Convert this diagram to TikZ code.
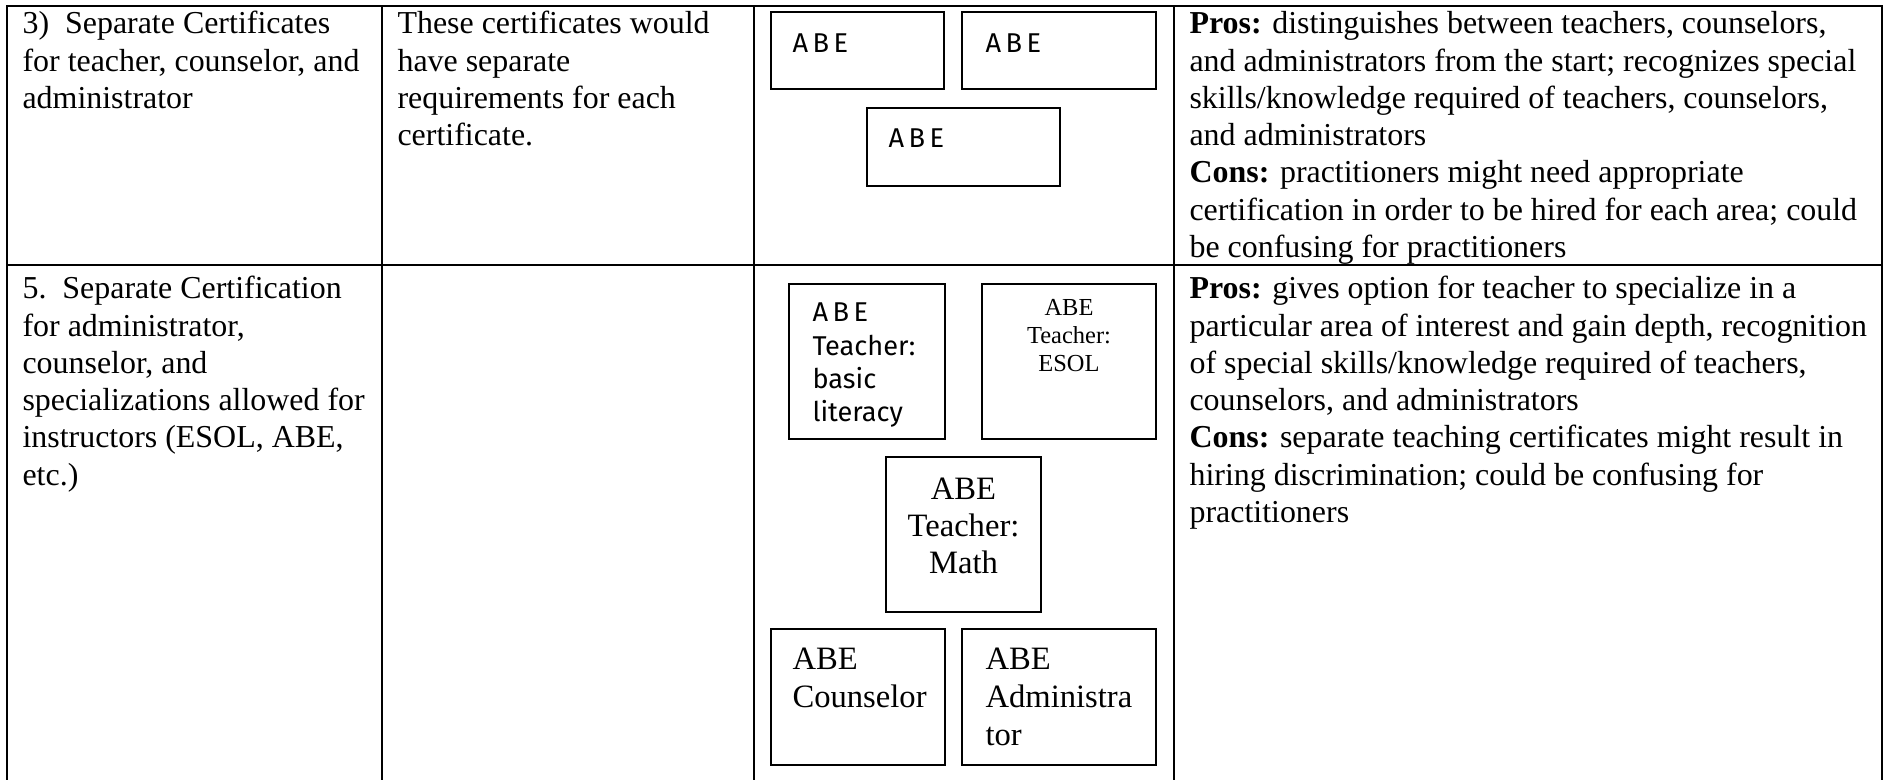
\documentclass[tikz,border=0pt]{standalone}
\usepackage{fontspec}
\setmainfont{Liberation Serif}
\newfontfamily\comicfont{Fira Sans}
\newcommand\celltextl[1]{\begin{tabular}[t]{@{}l@{}}#1\end{tabular}}
\newcommand\celltextc[1]{\begin{tabular}[t]{@{}c@{}}#1\end{tabular}}
\begin{document}
\begin{tikzpicture}[x=0.368pt,y=-0.368pt,
  grid/.style={line width=0.6pt,black},
  cell/.style={anchor=base west,inner sep=0pt,font=\fontsize{11.75}{13.7}\selectfont},
  box/.style={draw,line width=0.75pt,inner sep=0pt},
  comic/.style={anchor=base west,inner sep=0pt,font=\comicfont\fontsize{10}{12.25}\selectfont},
  smallc/.style={anchor=base,inner sep=0pt,font=\fontsize{9}{10.3}\selectfont},
  bigc/.style={anchor=base,inner sep=0pt,font=\fontsize{12}{13.6}\selectfont},
  bigl/.style={anchor=base west,inner sep=0pt,font=\fontsize{12}{13.9}\selectfont}]
\useasboundingbox (0,0) rectangle (1885,780);
% table grid
\draw[grid] (7,780) -- (7,6) -- (1882,6) -- (1882,780);
\draw[grid] (7,265) -- (1882,265);
\draw[grid] (382,6) -- (382,780);
\draw[grid] (754,6) -- (754,780);
\draw[grid] (1174,6) -- (1174,780);
% row 1 texts
\node[cell] (r1c1) at (22,34) {\celltextl{3)\ \ Separate Certificates\\for teacher, counselor, and\\administrator}};
\node[cell] (r1c2) at (397,34) {\celltextl{These certificates would\\have separate\\requirements for each\\certificate.}};
\node[cell] (r1c4) at (1189,34) {\celltextl{\textbf{Pros:} distinguishes between teachers, counselors,\\and administrators from the start; recognizes special\\skills/knowledge required of teachers, counselors,\\and administrators\\\textbf{Cons:} practitioners might need appropriate\\certification in order to be hired for each area; could\\be confusing for practitioners}};
% row 1 boxes
\node[box,minimum width=173*0.368pt,minimum height=77*0.368pt] (ba) at (857.5,50.5) {};
\node[box,minimum width=194*0.368pt,minimum height=77*0.368pt] (bb) at (1059,50.5) {};
\node[box,minimum width=193*0.368pt,minimum height=78*0.368pt] (bc) at (963.5,147) {};
\node[comic] (ta) at (792,53) {A\,B\,E};
\node[comic] (tb) at (985,53) {A\,B\,E};
\node[comic] (tc) at (888,148) {A\,B\,E};
% row 2 texts
\node[cell] (r2c1) at (22,299) {\celltextl{5.\ \ Separate Certification\\for administrator,\\counselor, and\\specializations allowed for\\instructors (ESOL, ABE,\\etc.)}};
\node[cell] (r2c4) at (1189,299) {\celltextl{\textbf{Pros:} gives option for teacher to specialize in a\\particular area of interest and gain depth, recognition\\of special skills/knowledge required of teachers,\\counselors, and administrators\\\textbf{Cons:} separate teaching certificates might result in\\hiring discrimination; could be confusing for\\practitioners}};
% row 2 boxes
\node[box,minimum width=156*0.368pt,minimum height=155*0.368pt] (bd) at (867,361.5) {};
\node[box,minimum width=174*0.368pt,minimum height=155*0.368pt] (be) at (1069,361.5) {};
\node[box,minimum width=155*0.368pt,minimum height=155*0.368pt] (bf) at (963.5,534.5) {};
\node[box,minimum width=174*0.368pt,minimum height=136*0.368pt] (bg) at (858,697) {};
\node[box,minimum width=194*0.368pt,minimum height=136*0.368pt] (bh) at (1059,697) {};
\node[comic] (td) at (812,322) {\celltextl{A\,B\,E\\Teacher:\\basic\\literacy}};
\node[smallc] (te) at (1069,316) {\celltextc{ABE\\Teacher:\\ESOL}};
\node[bigc] (tf) at (963.5,500) {\celltextc{ABE\\Teacher:\\Math}};
\node[bigl] (tg) at (792,670) {\celltextl{ABE\\Counselor}};
\node[bigl] (th) at (985,670) {\celltextl{ABE\\Administra\\tor}};
\end{tikzpicture}
\end{document}
